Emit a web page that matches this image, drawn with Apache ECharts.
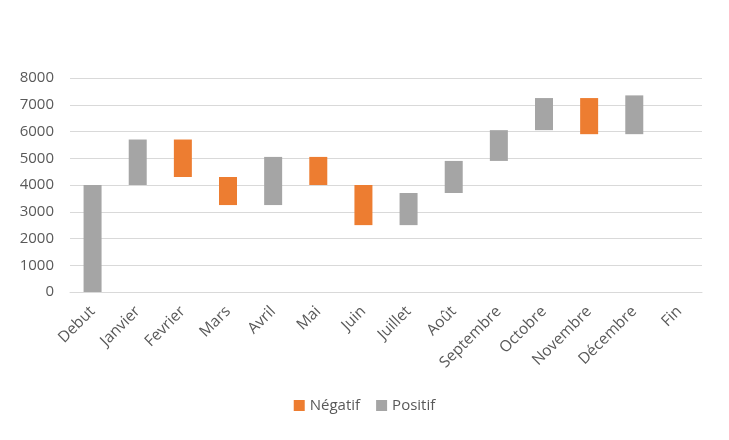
<!DOCTYPE html>
<html>
<head>
<meta charset="utf-8">
<script src="https://cdn.jsdelivr.net/npm/echarts@6/dist/echarts.min.js"></script>
<style>html,body{margin:0;padding:0;background:#fff}#c{width:729px;height:440px}</style>
</head>
<body>
<div id="c"></div>
<script>
var categories = ['Debut','Janvier','Fevrier','Mars','Avril','Mai','Juin','Juillet','Août','Septembre','Octobre','Novembre','Décembre','Fin'];
var base    = [0, 4000, 4300, 3250, 3250, 4000, 2500, 2500, 3700, 4900, 6050, 5900, 5900, '-'];
var negatif = ['-', '-', 1400, 1050, '-', 1050, 1500, '-', '-', '-', '-', 1350, '-', '-'];
var positif = [4000, 1700, '-', '-', 1800, '-', '-', 1200, 1200, 1150, 1200, '-', 1450, '-'];
var yTicks = [0, 1000, 2000, 3000, 4000, 5000, 6000, 7000, 8000];

var font = 'Open Sans';
var chart = echarts.init(document.getElementById('c'));
chart.setOption({
  animation: false,
  textStyle: {fontFamily: font},
  grid: {left: 70, right: 27, top: 78, bottom: 148, containLabel: false},
  legend: {
    data: ['Négatif', 'Positif'],
    bottom: 22, left: 'center',
    icon: 'rect', itemWidth: 11, itemHeight: 11, itemGap: 16, itemTextGap: 4,
    textStyle: {color: '#595959', fontSize: 15, fontFamily: font}
  },
  xAxis: {
    type: 'category',
    data: categories,
    axisLine: {lineStyle: {color: '#D9D9D9', width: 1}},
    axisTick: {show: false},
    axisLabel: {rotate: 45, color: '#595959', fontSize: 15.5, margin: 17, interval: 0}
  },
  yAxis: {
    type: 'value',
    min: yTicks[0], max: yTicks[yTicks.length - 1], interval: 1000,
    axisLine: {show: false},
    axisTick: {show: false},
    splitLine: {lineStyle: {color: '#D9D9D9', width: 1}},
    axisLabel: {color: '#595959', fontSize: 15, margin: 16, formatter: function (v) { return String(v); }}
  },
  series: [
    {name: 'base', type: 'bar', stack: 'w', data: base, barWidth: 18,
     itemStyle: {color: 'transparent'}, emphasis: {disabled: true}},
    {name: 'Négatif', type: 'bar', stack: 'w', data: negatif, barWidth: 18,
     itemStyle: {color: '#ED7D31'}},
    {name: 'Positif', type: 'bar', stack: 'w', data: positif, barWidth: 18,
     itemStyle: {color: '#A5A5A5'}}
  ]
});
</script>
</body>
</html>
